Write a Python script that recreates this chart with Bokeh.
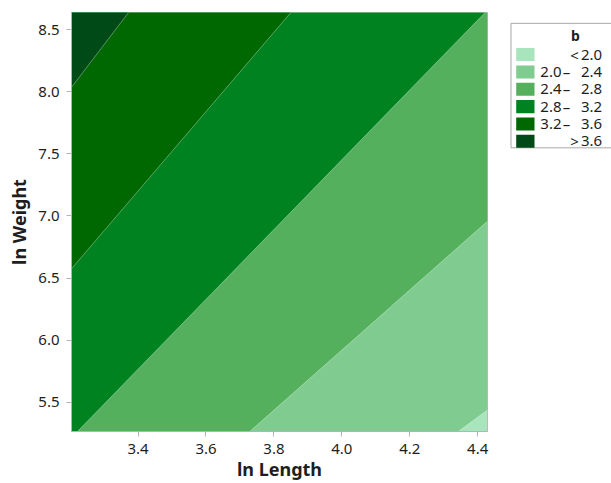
from bokeh.plotting import figure
from bokeh.layouts import row
from bokeh.models import Range1d, FixedTicker, NumeralTickFormatter
from bokeh.embed import file_html
from bokeh.resources import INLINE
from bokeh.core.properties import value

# ---- data ----
len_range = [3.204, 4.429]          # ln Length extent
wt_range = [5.266, 8.637]           # ln Weight extent
levels = [2.0, 2.4, 2.8, 3.2, 3.6]  # contour levels of b
# contour boundary lines: start (lower) and end (upper) points
bnd_len_start = [4.343, 3.729, 3.2215, 3.204, 3.204]
bnd_wt_start = [5.266, 5.266, 5.266, 6.575, 8.035]
bnd_len_end = [4.429, 4.429, 4.422, 3.850, 3.372]
bnd_wt_end = [5.439, 6.958, 8.637, 8.637, 8.637]
band_colors = ["#a8e4bc", "#80cc90", "#54b05c", "#008220", "#006800", "#004a18"]
x_ticks = [3.4, 3.6, 3.8, 4.0, 4.2, 4.4]
y_ticks = [5.5, 6.0, 6.5, 7.0, 7.5, 8.0, 8.5]

FONT = "Noto Sans"
TXT = "#1e1e1e"
GRAY = "#b4b4b4"


def clip(poly, p1, p2):
    """keep the part of poly on the upper-left side of line p1->p2"""
    def side(q):
        return (p2[0] - p1[0]) * (q[1] - p1[1]) - (p2[1] - p1[1]) * (q[0] - p1[0])
    out = []
    n = len(poly)
    for i in range(n):
        cur, prev = poly[i], poly[i - 1]
        sc, sp = side(cur), side(prev)
        if sc >= 0:
            if sp < 0:
                t = sp / (sp - sc)
                out.append((prev[0] + t * (cur[0] - prev[0]), prev[1] + t * (cur[1] - prev[1])))
            out.append(cur)
        elif sp >= 0:
            t = sp / (sp - sc)
            out.append((prev[0] + t * (cur[0] - prev[0]), prev[1] + t * (cur[1] - prev[1])))
    return out


rect = [(len_range[0], wt_range[0]), (len_range[1], wt_range[0]),
        (len_range[1], wt_range[1]), (len_range[0], wt_range[1])]
xs, ys, cols = [[c[0] for c in rect]], [[c[1] for c in rect]], [band_colors[0]]
for i in range(len(levels)):
    poly = clip(rect, (bnd_len_start[i], bnd_wt_start[i]), (bnd_len_end[i], bnd_wt_end[i]))
    xs.append([c[0] for c in poly])
    ys.append([c[1] for c in poly])
    cols.append(band_colors[i + 1])

MW, H = 489, 483
p = figure(width=MW, height=H, output_backend="svg", toolbar_location=None,
           x_range=Range1d(*len_range), y_range=Range1d(*wt_range),
           min_border_left=71, min_border_right=2, min_border_top=12, min_border_bottom=52)
p.patches(xs, ys, fill_color=cols, line_color=None)
p.segment(bnd_len_start, bnd_wt_start, bnd_len_end, bnd_wt_end,
          line_color="white", line_alpha=0.35, line_width=1)

p.grid.visible = False
p.outline_line_color = GRAY
p.xaxis.ticker = FixedTicker(ticks=x_ticks)
p.yaxis.ticker = FixedTicker(ticks=y_ticks)
for ax in (p.xaxis, p.yaxis):
    ax.formatter = NumeralTickFormatter(format="0.0")
    ax.axis_line_color = GRAY
    ax.major_tick_line_color = GRAY
    ax.major_tick_out = 5
    ax.major_tick_in = 0
    ax.minor_tick_line_color = None
    ax.major_label_text_font = FONT
    ax.major_label_text_font_size = "15px"
    ax.major_label_text_color = TXT
    ax.axis_label_text_font = FONT
    ax.axis_label_text_font_size = "18px"
    ax.axis_label_text_font_style = "bold"
    ax.axis_label_text_color = TXT
p.xaxis.axis_label = "ln Length"
p.yaxis.axis_label = "ln Weight"
p.xaxis.major_label_standoff = 7
p.xaxis.axis_label_standoff = 0
p.yaxis.major_label_standoff = 7
p.yaxis.axis_label_standoff = 4

# ---- legend panel ----
LW = 611 - MW
lf = figure(width=LW, height=H, output_backend="svg", toolbar_location=None,
            x_range=Range1d(0, LW), y_range=Range1d(H, 0),
            x_axis_location=None, y_axis_location=None, min_border=0)
lf.grid.visible = False
lf.outline_line_color = None
lf.quad(left=[21.5], right=[300], top=[12.5], bottom=[156], fill_color="white",
        line_color="#a8a8a8", line_width=1)
lf.text(x=[86], y=[27], text=["b"], text_font=value(FONT), text_font_size="14px",
        text_font_style="bold", text_color=TXT, text_align="center", text_baseline="middle")

labels_lo, labels_mid, labels_hi = [], [], []
labels_lo.append("")
labels_mid.append("<")
labels_hi.append(f"{levels[0]:.1f}")
for a, b in zip(levels[:-1], levels[1:]):
    labels_lo.append(f"{a:.1f}")
    labels_mid.append("–")
    labels_hi.append(f"{b:.1f}")
labels_lo.append("")
labels_mid.append(">")
labels_hi.append(f"{levels[-1]:.1f}")

row_top = [41 + 20 * i for i in range(6)]
row_mid = [t + 7.5 for t in row_top]
lf.quad(left=[26.7] * 6, right=[45] * 6, top=row_top, bottom=[t + 15 for t in row_top],
        fill_color=band_colors, line_color=None)
mid_x = [85 if m in "<>" else 77 for m in labels_mid]
lf.text(x=[72] * 6, y=row_mid, text=labels_lo, text_font=value(FONT), text_font_size="15px",
        text_color=TXT, text_align="right", text_baseline="middle")
lf.text(x=mid_x, y=row_mid, text=labels_mid, text_font=value(FONT), text_font_size="15px",
        text_color=TXT, text_align="center", text_baseline="middle")
lf.text(x=[91.5] * 6, y=row_mid, text=labels_hi, text_font=value(FONT), text_font_size="15px",
        text_color=TXT, text_align="left", text_baseline="middle")

layout = row(p, lf)
open("out.html", "w").write(file_html(layout, INLINE))
